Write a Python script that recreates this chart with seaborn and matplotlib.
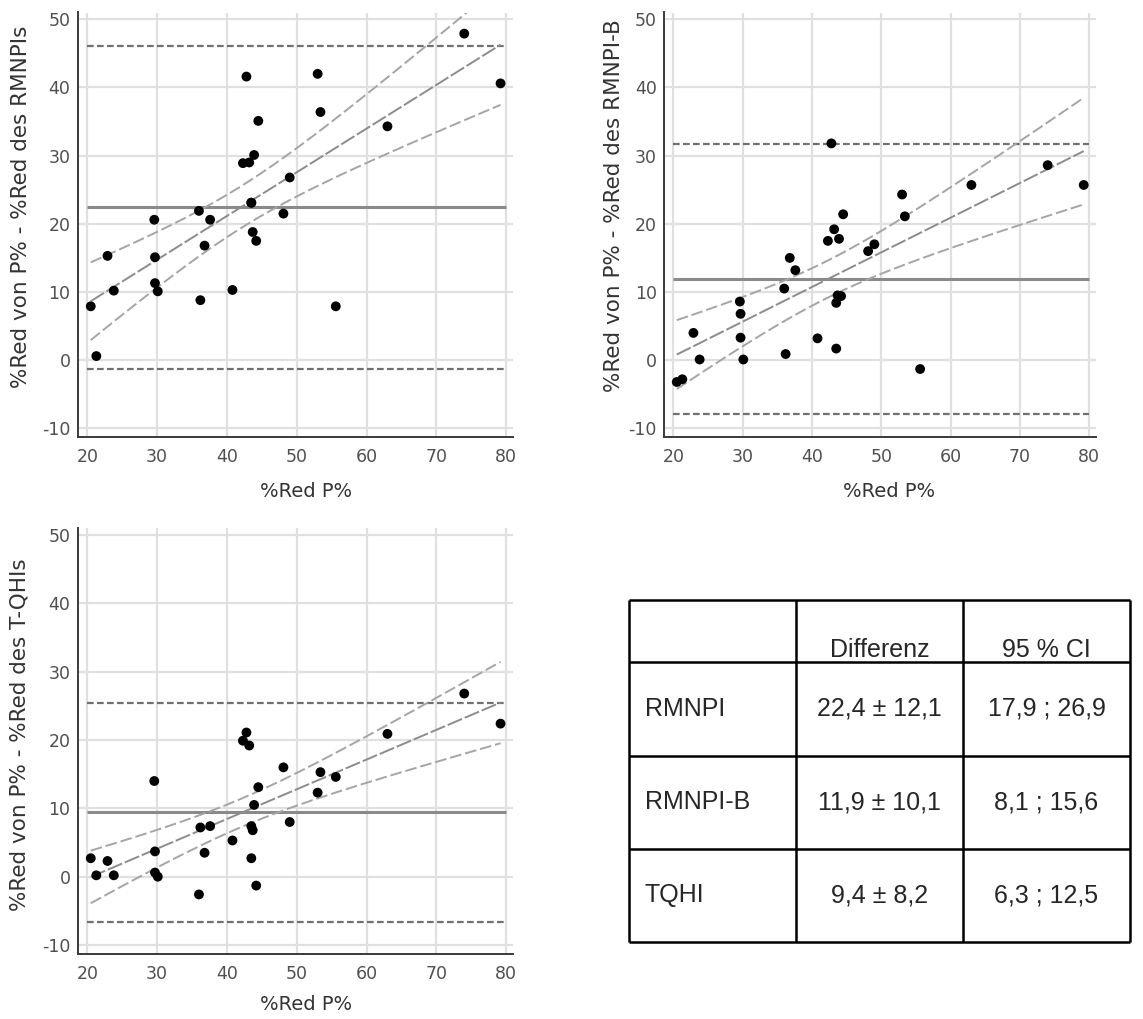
import numpy as np
import pandas as pd
import matplotlib
matplotlib.use("Agg")
import matplotlib.pyplot as plt
import seaborn as sns
from matplotlib.ticker import MultipleLocator

# Data: %Red P% (x, same for all panels) and differences per index
red_p = [20.5, 21.3, 22.9, 23.8, 29.6, 29.7, 29.7, 30.1, 36.0, 36.2,
         36.8, 37.6, 40.8, 42.3, 42.8, 43.2, 43.5, 43.5, 43.7, 43.9,
         44.2, 44.5, 48.1, 49.0, 53.0, 53.4, 55.6, 63.0, 74.0, 79.2]
diff_rmnpi = [7.9, 0.6, 15.3, 10.2, 20.6, 15.1, 11.3, 10.1, 21.9, 8.8,
              16.8, 20.6, 10.3, 28.9, 41.6, 29.0, 23.1, 23.1, 18.8, 30.1,
              17.5, 35.1, 21.5, 26.8, 42.0, 36.4, 7.9, 34.3, 47.9, 40.6]
diff_rmnpi_b = [-3.2, -2.8, 4.0, 0.1, 8.6, 6.8, 3.3, 0.1, 10.5, 0.9,
                15.0, 13.2, 3.2, 17.5, 31.8, 19.2, 8.4, 1.7, 9.5, 17.8,
                9.4, 21.4, 16.0, 17.0, 24.3, 21.1, -1.3, 25.7, 28.6, 25.7]
diff_tqhi = [2.7, 0.2, 2.3, 0.2, 14.0, 3.7, 0.6, 0.0, -2.6, 7.2,
             3.5, 7.4, 5.3, 19.9, 21.1, 19.2, 7.4, 2.7, 6.8, 10.5,
             -1.3, 13.1, 16.0, 8.0, 12.3, 15.3, 14.6, 20.9, 26.8, 22.4]

methods = ["RMNPI", "RMNPI-B", "TQHI"]
ylabels = ["%Red von P% - %Red des RMNPIs",
           "%Red von P% - %Red des RMNPI-B",
           "%Red von P% - %Red des T-QHIs"]
diff_mean = [22.4, 11.9, 9.4]
diff_sd = [12.1, 10.1, 8.2]
ci_low = [17.9, 8.1, 6.3]
ci_high = [26.9, 15.6, 12.5]
table_header = ["", "Differenz", "95 % CI"]

T_CRIT = 2.048  # t(0.975, df=28)

plt.rcParams["axes.unicode_minus"] = False

W, H = 1143, 1019
fig = plt.figure(figsize=(W / 100, H / 100), dpi=100)
sns.set_style("white")
plt.rcParams["font.family"] = ["DejaVu Sans"]


def px_axes(left, top, right, bottom):
    return fig.add_axes([left / W, 1 - bottom / H, (right - left) / W, (bottom - top) / H])


panels = [
    (px_axes(77.5, 12.5, 513.1, 437.2), diff_rmnpi, (-0.130, 0.542), (0.5245, -0.128)),
    (px_axes(663.6, 12.5, 1096.2, 437.2), diff_rmnpi_b, (-0.115, 0.545), (0.521, -0.128)),
    (px_axes(77.5, 528.2, 513.1, 953.9), diff_tqhi, (-0.133, 0.516), (0.5245, -0.120)),
]

x = np.array(red_p)
xs = np.linspace(x.min(), x.max(), 200)

for i, (ax, diffs, ylab_pos, xlab_pos) in enumerate(panels):
    y = np.array(diffs)
    df = pd.DataFrame({"x": x, "y": y})

    ax.set_xlim(18.6, 81)
    ax.set_ylim(-11.3, 51)
    ax.xaxis.set_major_locator(MultipleLocator(10))
    ax.yaxis.set_major_locator(MultipleLocator(10))
    ax.xaxis.set_minor_locator(MultipleLocator(5))
    ax.yaxis.set_minor_locator(MultipleLocator(5))
    ax.grid(True, which="major", color="#e0e0e0", lw=1.6)
    ax.set_axisbelow(True)
    for s in ["top", "right"]:
        ax.spines[s].set_visible(False)
    for s in ["left", "bottom"]:
        ax.spines[s].set_color("#3a3a3a")
        ax.spines[s].set_linewidth(1.4)
    ax.tick_params(which="both", direction="in", color="#666666", labelcolor="#505050",
                   labelsize=12.5, length=3, width=1)
    ax.tick_params(axis="x", pad=8)
    ax.tick_params(axis="y", pad=5)

    # bias and limits of agreement
    m, sd = diff_mean[i], diff_sd[i]
    ax.hlines(m, 20, 80, color="#8a8a8a", lw=2.2, zorder=2)
    for lim in (m - 1.96 * sd, m + 1.96 * sd):
        ax.hlines(lim, 20, 80, color="#707070", lw=1.6, linestyles=(0, (3, 1.5)), zorder=2)

    # regression line with 95% confidence curves
    b, a = np.polyfit(x, y, 1)
    resid = y - (a + b * x)
    s = np.sqrt(np.sum(resid ** 2) / (len(x) - 2))
    sxx = np.sum((x - x.mean()) ** 2)
    se = s * np.sqrt(1 / len(x) + (xs - x.mean()) ** 2 / sxx)
    yhat = a + b * xs
    ax.plot(xs, yhat, color="#8c8c8c", lw=1.4, ls=(0, (8, 1.5)), zorder=2)
    ax.plot(xs, yhat - T_CRIT * se, color="#a5a5a5", lw=1.4, ls=(0, (6, 2)), zorder=2)
    ax.plot(xs, yhat + T_CRIT * se, color="#a5a5a5", lw=1.4, ls=(0, (6, 2)), zorder=2)

    sns.scatterplot(data=df, x="x", y="y", ax=ax, color="black", s=50,
                    edgecolor="none", zorder=3, clip_on=False)

    ax.set_ylabel(ylabels[i], fontsize=15.5, color="#333333", va="center")
    ax.yaxis.set_label_coords(*ylab_pos)
    ax.set_xlabel("%Red P%", fontsize=14, color="#333333", va="center")
    ax.xaxis.set_label_coords(*xlab_pos)

# summary table
tax = px_axes(629.3, 600, 1130, 941.7)
tax.set_xlim(0, 1)
tax.set_ylim(1, 0)
tax.axis("off")
col_edges = [0, 1 / 3, 2 / 3, 1]
row_edges = [0, 0.1806, 0.4565, 0.7287, 1]
for c in col_edges:
    tax.vlines(c, 0, 1, color="black", lw=1.8, clip_on=False)
for r in row_edges:
    tax.hlines(r, 0, 1, color="black", lw=1.8, clip_on=False)

tfont = ["Liberation Sans", "DejaVu Sans"]
for j, label in enumerate(table_header):
    if label:
        tax.text((col_edges[j] + col_edges[j + 1]) / 2, 0.166, label, ha="center",
                 va="baseline", fontsize=18, family=tfont)
for k, name in enumerate(methods):
    yc = (row_edges[k + 1] + row_edges[k + 2]) / 2
    diff_txt = f"{diff_mean[k]} ± {diff_sd[k]}".replace(".", ",")
    ci_txt = f"{ci_low[k]} ; {ci_high[k]}".replace(".", ",")
    tax.text(0.031, yc, name, ha="left", va="center", fontsize=18, family=tfont)
    tax.text(0.5, yc, diff_txt, ha="center", va="center", fontsize=18, family=tfont)
    tax.text(5 / 6, yc, ci_txt, ha="center", va="center", fontsize=18, family=tfont)

fig.savefig("out.png", dpi=100, facecolor="white")
